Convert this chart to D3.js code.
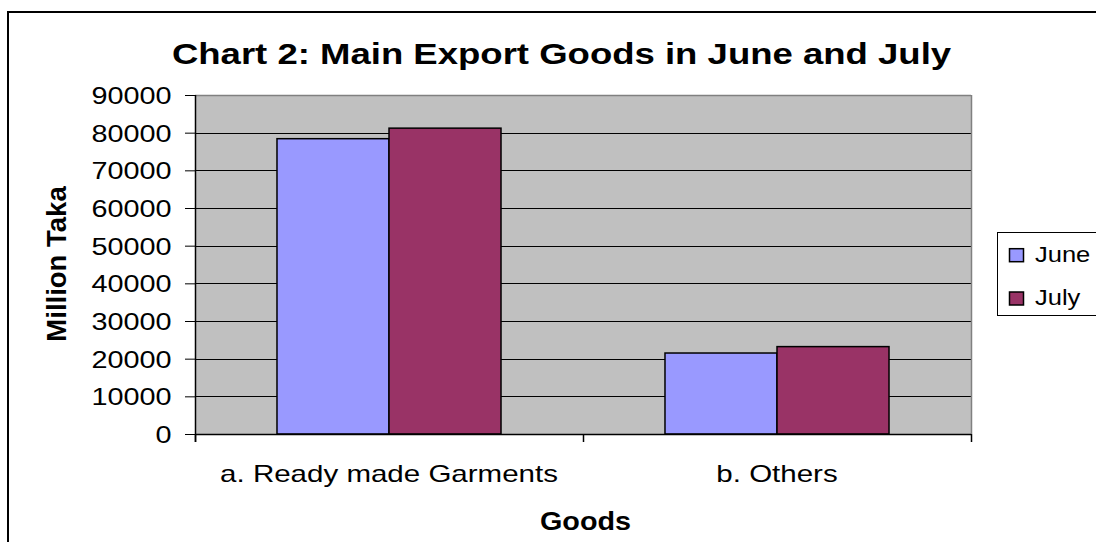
<!DOCTYPE html>
<html>
<head>
<meta charset="utf-8">
<script src="https://cdn.jsdelivr.net/npm/d3@7"></script>
<style>
html,body{margin:0;padding:0;background:#fff;}
svg{display:block;font-family:Arial,"Liberation Sans",sans-serif;}
</style>
</head>
<body>
<svg id="chart" width="1096" height="542"></svg>
<script>
const categories = ["a. Ready made Garments", "b. Others"];
const seriesNames = ["June", "July"];
const juneValues = [78400, 21500];
const julyValues = [81200, 23200];
const yTicks = [0, 10000, 20000, 30000, 40000, 50000, 60000, 70000, 80000, 90000];
const titleText = "Chart 2: Main Export Goods in June and July";
const yTitle = "Million Taka";
const xTitle = "Goods";

const colors = {June: "#9999FF", July: "#993366"};
const seriesValues = {June: juneValues, July: julyValues};

const svg = d3.select("#chart");

// outer chart border
svg.append("rect").attr("x", 8).attr("y", 12).attr("width", 1100).attr("height", 540)
  .attr("fill", "#fff").attr("stroke", "#000").attr("stroke-width", 2);

const plot = {left: 195, right: 971, top: 95, bottom: 434};

const x0 = d3.scaleBand().domain(categories).range([plot.left, plot.right]).paddingInner(0).paddingOuter(0);
const x1 = d3.scaleBand().domain(seriesNames).range([0, x0.bandwidth()]).paddingInner(0).paddingOuter(0.732);
const y = d3.scaleLinear().domain([0, 90000]).range([plot.bottom, plot.top]);

// plot background
svg.append("rect").attr("x", plot.left).attr("y", plot.top)
  .attr("width", plot.right - plot.left).attr("height", plot.bottom - plot.top)
  .attr("fill", "#C0C0C0");

// gridlines
svg.append("g").selectAll("line").data(yTicks.filter(d => d > 0 && d < 90000)).join("line")
  .attr("x1", plot.left).attr("x2", plot.right)
  .attr("y1", d => Math.round(y(d)) + 0.5).attr("y2", d => Math.round(y(d)) + 0.5)
  .attr("stroke", "#000").attr("stroke-width", 1);

// plot border top/right grey
svg.append("line").attr("x1", plot.left).attr("x2", plot.right).attr("y1", plot.top + 0.5).attr("y2", plot.top + 0.5)
  .attr("stroke", "#808080").attr("stroke-width", 1.5);
svg.append("line").attr("x1", plot.right + 0.5).attr("x2", plot.right + 0.5).attr("y1", plot.top).attr("y2", plot.bottom)
  .attr("stroke", "#808080").attr("stroke-width", 1.5);

// bars
const groups = svg.append("g").selectAll("g").data(categories).join("g")
  .attr("transform", d => `translate(${x0(d)},0)`);
groups.selectAll("rect").data((c, i) => seriesNames.map(s => ({s, v: seriesValues[s][i]}))).join("rect")
  .attr("x", d => x1(d.s)).attr("width", x1.bandwidth())
  .attr("y", d => y(d.v)).attr("height", d => y(0) - y(d.v))
  .attr("fill", d => colors[d.s]).attr("stroke", "#000").attr("stroke-width", 1.5);

// y axis
const yAxis = d3.axisLeft(y).tickValues(yTicks).tickFormat(d3.format("d")).tickSize(10).tickSizeOuter(0).tickPadding(0);
const yg = svg.append("g").attr("transform", `translate(${plot.left},0)`).call(yAxis);
yg.select(".domain").attr("stroke", "#000").attr("stroke-width", 1.5).attr("d", `M0.5,${plot.top}V${plot.bottom + 8}`);
yg.selectAll(".tick line").attr("stroke", "#000");
const ysx = 1.2;
yg.selectAll(".tick text")
  .attr("font-size", 24).attr("fill", "#000").attr("font-family", "Arial, 'Liberation Sans', sans-serif")
  .attr("x", -23.5 / ysx).attr("dy", "0.35em")
  .attr("transform", `scale(${ysx},1)`);

// x axis
svg.append("line").attr("x1", plot.left).attr("x2", plot.right).attr("y1", plot.bottom + 0.5).attr("y2", plot.bottom + 0.5)
  .attr("stroke", "#000").attr("stroke-width", 1.5);
const xTickPos = [plot.left, ...categories.map(c => x0(c) + x0.bandwidth())];
svg.append("g").selectAll("line").data(xTickPos).join("line")
  .attr("x1", d => d + 0.5).attr("x2", d => d + 0.5).attr("y1", plot.bottom).attr("y2", plot.bottom + 8)
  .attr("stroke", "#000").attr("stroke-width", 1.5);

function stretchedText(g, txt, xPos, yPos, size, sx, weight, anchor) {
  return g.append("text")
    .attr("transform", `translate(${xPos},${yPos}) scale(${sx},1)`)
    .attr("text-anchor", anchor || "middle")
    .attr("font-size", size).attr("font-weight", weight || "normal")
    .attr("fill", "#000").text(txt);
}

// category labels
categories.forEach(c => {
  stretchedText(svg, c, x0(c) + x0.bandwidth() / 2, 481.5, 24, 1.23, "normal");
});

// title
stretchedText(svg, titleText, 561.5, 63.5, 29, 1.26, "bold");

// x title
stretchedText(svg, xTitle, 585.5, 530, 25, 1.15, "bold");

// y title
svg.append("text").attr("transform", "translate(66,264) rotate(-90)")
  .attr("text-anchor", "middle").attr("font-size", 27.5).attr("font-weight", "bold")
  .attr("fill", "#000").text(yTitle);

// legend
const lg = svg.append("g");
lg.append("rect").attr("x", 997.5).attr("y", 232.5).attr("width", 120).attr("height", 83)
  .attr("fill", "#fff").attr("stroke", "#000").attr("stroke-width", 1);
const legendY = d3.scalePoint().domain(seriesNames).range([261.7, 305]);
seriesNames.forEach(s => {
  lg.append("rect").attr("x", 1009.5).attr("y", legendY(s) - 13).attr("width", 14).attr("height", 13)
    .attr("fill", colors[s]).attr("stroke", "#000").attr("stroke-width", 1.5);
  stretchedText(lg, s, 1035, legendY(s), 22, 1.16, "normal", "start");
});
</script>
</body>
</html>
